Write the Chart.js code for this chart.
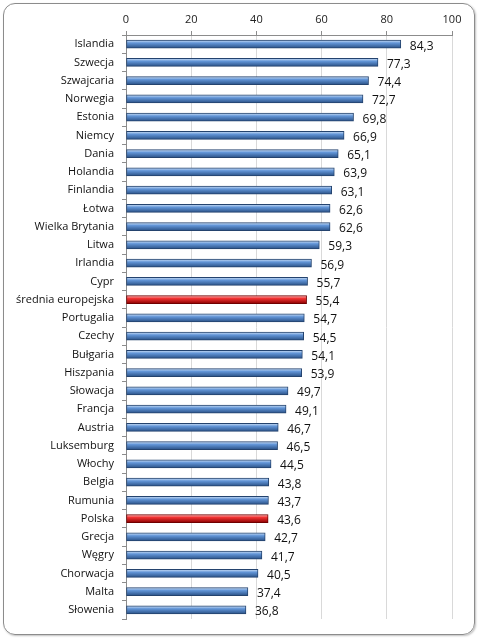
<!DOCTYPE html>
<html><head><meta charset="utf-8">
<script src="https://cdn.jsdelivr.net/npm/chart.js@4"></script>
<style>
html,body{margin:0;padding:0;background:#fff;}
#wrap{position:relative;width:479px;height:638px;}
#frame{position:absolute;left:3px;top:3px;width:470px;height:630px;border:1px solid #8c8c8c;border-radius:12px;box-shadow:1px 1px 2px rgba(0,0,0,0.25);}
#c{position:absolute;left:0;top:0;}
</style></head>
<body>
<div id="wrap"><div id="frame"></div><canvas id="c" width="479" height="638"></canvas></div>
<script>
const categories = ["Islandia","Szwecja","Szwajcaria","Norwegia","Estonia","Niemcy","Dania","Holandia","Finlandia","Łotwa","Wielka Brytania","Litwa","Irlandia","Cypr","średnia europejska","Portugalia","Czechy","Bułgaria","Hiszpania","Słowacja","Francja","Austria","Luksemburg","Włochy","Belgia","Rumunia","Polska","Grecja","Węgry","Chorwacja","Malta","Słowenia"];
const values = [84.3,77.3,74.4,72.7,69.8,66.9,65.1,63.9,63.1,62.6,62.6,59.3,56.9,55.7,55.4,54.7,54.5,54.1,53.9,49.7,49.1,46.7,46.5,44.5,43.8,43.7,43.6,42.7,41.7,40.5,37.4,36.8];
const highlighted = ["średnia europejska","Polska"];
const xTicks = [0,20,40,60,80,100];

const FONT = "'Open Sans', 'Noto Sans', sans-serif";

function barFill(ctx){
  const chart = ctx.chart;
  const red = highlighted.includes(categories[ctx.dataIndex]);
  const flat = red ? '#d02020' : '#4f81bd';
  const ys = chart.scales && chart.scales.y;
  if(!ys || ctx.dataIndex === undefined) return flat;
  const y = ys.getPixelForValue(ctx.dataIndex);
  if(!isFinite(y)) return flat;
  const g = chart.ctx.createLinearGradient(0, y-4, 0, y+4);
  if(red){
    g.addColorStop(0,'#ffc0c0'); g.addColorStop(0.35,'#f23434'); g.addColorStop(1,'#8a0000');
  } else {
    g.addColorStop(0,'#d2e3f7'); g.addColorStop(0.35,'#6396d8'); g.addColorStop(1,'#2a5186');
  }
  return g;
}

const labelPlugin = {
  id:'valueLabels',
  afterDatasetsDraw(chart){
    const ctx = chart.ctx;
    const meta = chart.getDatasetMeta(0);
    ctx.save();
    ctx.font = "12px " + FONT;
    ctx.fillStyle = '#111';
    ctx.textAlign = 'left';
    ctx.textBaseline = 'middle';
    meta.data.forEach((el,i)=>{
      ctx.fillText(values[i].toFixed(1).replace('.',','), el.x + 9, el.y + 2);
    });
    ctx.restore();
  }
};

new Chart(document.getElementById('c'), {
  type:'bar',
  data:{
    labels: categories,
    datasets:[{
      data: values,
      backgroundColor: barFill,
      borderColor: (ctx)=> highlighted.includes(categories[ctx.dataIndex]) ? '#700000' : '#24436e',
      borderWidth: 1,
      borderSkipped: false,
      barThickness: 8
    }]
  },
  options:{
    indexAxis:'y',
    responsive:false,
    animation:false,
    devicePixelRatio:1,
    layout:{padding:{left:0,right:27,top:0,bottom:19}},
    plugins:{legend:{display:false},tooltip:{enabled:false}},
    scales:{
      x:{
        position:'top',
        min:0,max:100,
        afterBuildTicks(s){ s.ticks = xTicks.map(v=>({value:v})); },
        afterFit(s){ s.height = 35; },
        ticks:{font:{size:11,family:FONT},color:'#222',padding:5},
        grid:{color:'#d9d9d9',tickColor:'#8c8c8c',tickLength:4,drawTicks:true},
        border:{color:'#8c8c8c'}
      },
      y:{
        afterFit(s){ s.width = 126; },
        ticks:{font:{size:11,family:FONT},color:'#111',padding:8,autoSkip:false},
        grid:{drawOnChartArea:false,drawTicks:true,tickLength:4,offset:true,tickColor:'#8c8c8c'},
        border:{color:'#8c8c8c'}
      }
    }
  },
  plugins:[labelPlugin]
});
</script>
</body></html>
